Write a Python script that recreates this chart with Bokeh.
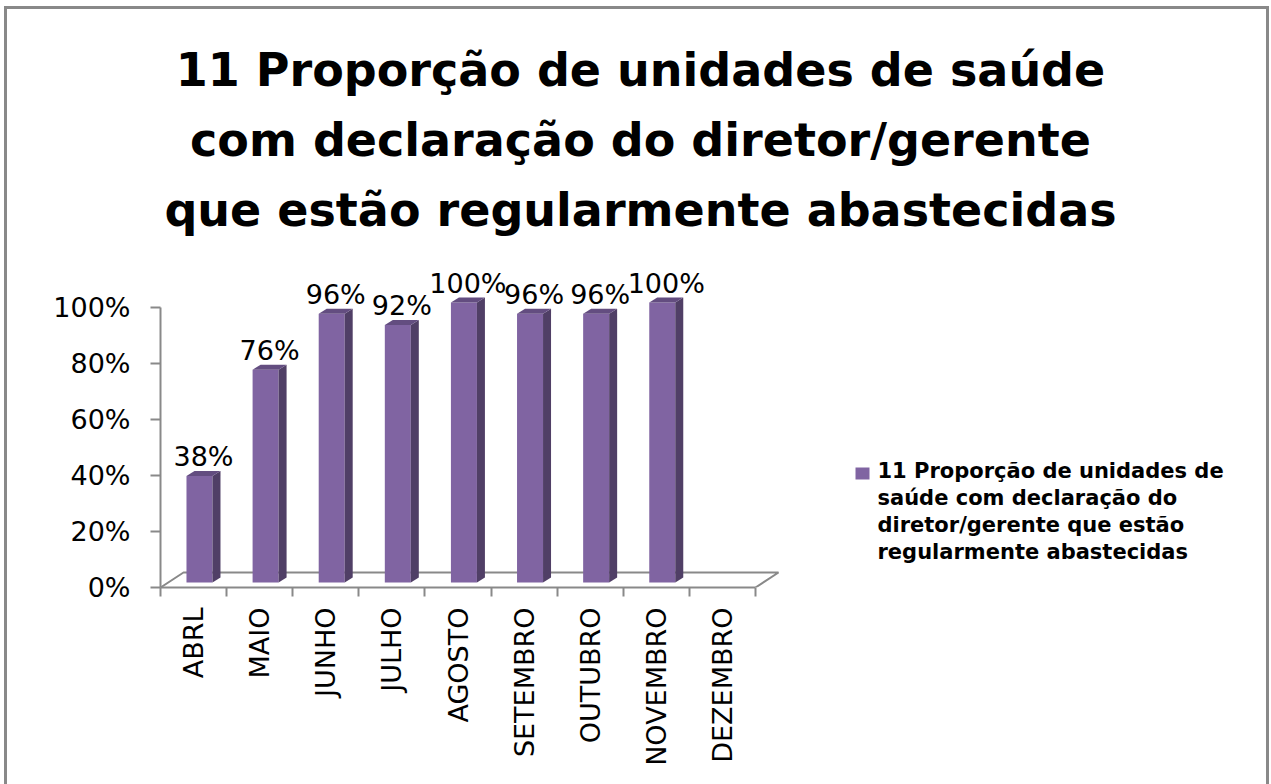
import math
from bokeh.plotting import figure
from bokeh.models import (FixedTicker, PrintfTickFormatter, LinearAxis, Range1d,
                          ColumnDataSource, Grid)
from bokeh.core.properties import value
from bokeh.embed import file_html
from bokeh.resources import INLINE

# ---------------- data ----------------
months = ["ABRL", "MAIO", "JUNHO", "JULHO", "AGOSTO", "SETEMBRO",
          "OUTUBRO", "NOVEMBRO", "DEZEMBRO"]
values = [38, 76, 96, 92, 100, 96, 96, 100, None]
y_ticks = [0, 20, 40, 60, 80, 100]
title_lines = ["11 Proporção de unidades de saúde",
               "com declaração do diretor/gerente",
               "que estão regularmente abastecidas"]
legend_lines = ["11 Proporção de unidades de",
                "saúde com declaração do",
                "diretor/gerente que estão",
                "regularmente abastecidas"]

# ---------------- layout (canvas pixels) ----------------
W, H = 1271, 784
FL = 160          # frame left
FB = 587          # frame bottom (from top)
PX_X = 595 / 9    # pixels per category
PX_Y = 2.8        # pixels per percent
X0 = -0.5
MID = 0.36        # baseline -> middle offset (em)

def cx(px):
    return X0 + (px - FL) / PX_X

def cy(py):
    return (FB - py) / PX_Y

x_end = cx(W)
y_end = cy(0)

FRONT = "#8064A2"
SIDE = "#503F66"
TOP = "#634D80"
GRAY = "#898989"

p = figure(frame_width=W - FL, frame_height=FB,
           min_border_left=FL, min_border_right=0, min_border_top=0,
           min_border_bottom=H - FB,
           x_range=Range1d(X0, x_end), y_range=Range1d(0, y_end),
           x_axis_location=None, y_axis_location=None,
           title_location=None,
           output_backend="svg", toolbar_location=None)
p.outline_line_color = None
p.background_fill_color = None
p.border_fill_color = None
for r in list(p.center):
    if isinstance(r, Grid):
        r.visible = False

# outer chart border (left, top, right; bottom edge lies outside the picture)
line = "linear-gradient(%s, %s)" % (GRAY, GRAY)
p.styles = {
    "background": ", ".join([
        line + " left 4px top 6px / 3px 100% no-repeat",
        line + " left 4px top 6px / calc(100% - 6px) 3px no-repeat",
        line + " right 2px top 6px / 3px 100% no-repeat",
        "white",
    ])
}

# ---------------- axes ----------------
yaxis = LinearAxis(ticker=FixedTicker(ticks=y_ticks, minor_ticks=[]),
                   formatter=PrintfTickFormatter(format="%d%%"),
                   bounds=(0, 100))
yaxis.axis_line_color = GRAY
yaxis.axis_line_width = 2
yaxis.major_tick_line_color = GRAY
yaxis.major_tick_line_width = 2
yaxis.major_tick_out = 10
yaxis.major_tick_in = 0
yaxis.minor_tick_line_color = None
yaxis.major_label_standoff = 20
yaxis.major_label_text_font = "DejaVu Sans"
yaxis.major_label_text_font_size = "27px"
yaxis.major_label_text_color = "#000000"
p.add_layout(yaxis, "left")

xaxis = LinearAxis(ticker=FixedTicker(ticks=list(range(len(months))),
                                      minor_ticks=[i - 0.5 for i in range(len(months) + 1)]),
                   bounds=(X0, len(months) - 0.5))
xaxis.major_label_overrides = {i: m for i, m in enumerate(months)}
xaxis.major_label_orientation = math.pi / 2
xaxis.axis_line_color = GRAY
xaxis.axis_line_width = 2
xaxis.major_tick_out = 0
xaxis.major_tick_in = 0
xaxis.major_tick_line_color = None
xaxis.minor_tick_out = 9
xaxis.minor_tick_in = 0
xaxis.minor_tick_line_color = GRAY
xaxis.minor_tick_line_width = 2
xaxis.major_label_standoff = 11
xaxis.major_label_text_font = "DejaVu Sans"
xaxis.major_label_text_font_size = "27px"
xaxis.major_label_text_color = "#000000"
p.add_layout(xaxis, "below")

# ---------------- 3D floor ----------------
FDX = 23 / PX_X
FDY = 15 / PX_Y
n = len(months)
p.line([X0, X0 + FDX, n - 0.5 + FDX, n - 0.5],
       [0, FDY, FDY, 0], line_color=GRAY, line_width=2)

# ---------------- 3D bars ----------------
BAR_L = -0.107
BAR_W = 26 / PX_X
DX = 8 / PX_X
DY = 5 / PX_Y
BASE = 5 / PX_Y

idx = [i for i, v in enumerate(values) if v is not None]
vals = [values[i] for i in idx]
left = [i + BAR_L for i in idx]
right = [l + BAR_W for l in left]
bottom = [BASE for _ in idx]
top = [v + BASE for v in vals]

src = ColumnDataSource(dict(left=left, right=right, bottom=bottom, top=top))
p.quad(left="left", right="right", bottom="bottom", top="top", source=src,
       fill_color=FRONT, line_color=None)

side_xs = [[r, r + DX, r + DX, r] for r in right]
side_ys = [[b, b + DY, t + DY, t] for b, t in zip(bottom, top)]
p.patches(side_xs, side_ys, fill_color=SIDE, line_color=None)

top_xs = [[l, l + DX, r + DX, r] for l, r in zip(left, right)]
top_ys = [[t, t + DY, t + DY, t] for t in top]
p.patches(top_xs, top_ys, fill_color=TOP, line_color=None)

# data labels (baseline ~5.2 % above the value)
LAB_FS = 27
lab_x = [l + (BAR_W + DX) / 2 for l in left]
lab_y = [v + 5.2 + MID * LAB_FS / PX_Y for v in vals]
lab_t = ["%d%%" % v for v in vals]
p.text(lab_x, lab_y, text=lab_t, text_align="center", text_baseline="middle",
       text_font=value("DejaVu Sans"), text_font_size="%dpx" % LAB_FS,
       text_color="#000000")

# ---------------- title ----------------
T_FS = 46
title_base = [86, 156, 226]
p.text([cx(640)] * 3, [cy(b - MID * T_FS) for b in title_base], text=title_lines,
       text_align="center", text_baseline="middle",
       text_font=value("DejaVu Sans"), text_font_style="bold",
       text_font_size="%dpx" % T_FS, text_color="#000000")

# ---------------- legend ----------------
L_FS = 21
p.quad(left=[cx(855)], right=[cx(869)], top=[cy(467)], bottom=[cy(479)],
       fill_color=FRONT, line_color=None)
leg_base = [478, 505, 532, 559]
p.text([cx(877)] * 4, [cy(b - MID * L_FS) for b in leg_base], text=legend_lines,
       text_align="left", text_baseline="middle",
       text_font=value("DejaVu Sans"), text_font_style="bold",
       text_font_size="%dpx" % L_FS, text_color="#000000")

open("out.html", "w").write(file_html(p, INLINE))
